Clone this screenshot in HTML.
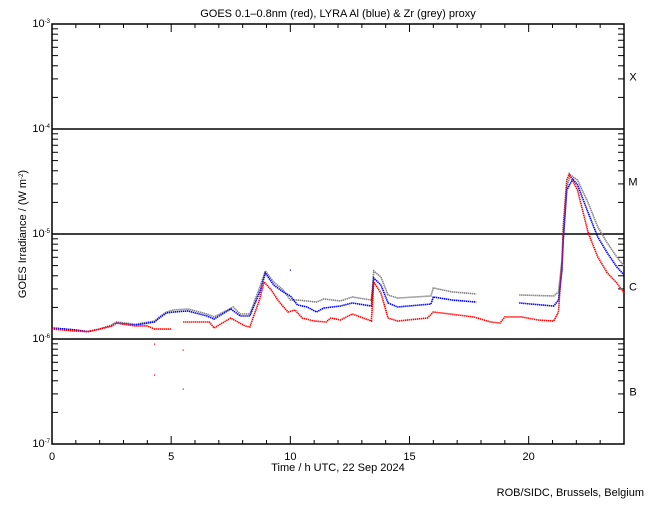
<!DOCTYPE html>
<html><head><meta charset="utf-8"><style>
body{margin:0;background:#fff}
svg text{font-family:"Liberation Sans",sans-serif;font-size:11px;fill:#000}
</style></head><body>
<svg id="chart" width="650" height="500" viewBox="0 0 650 500" xmlns="http://www.w3.org/2000/svg">
<rect width="650" height="500" fill="#fff"/>
<text x="338" y="17" text-anchor="middle" font-size="12">GOES 0.1–0.8nm (red), LYRA Al (blue) &amp; Zr (grey) proxy</text>
<text x="338" y="471" text-anchor="middle">Time / h UTC, 22 Sep 2024</text>
<text transform="translate(26,234) rotate(-90)" text-anchor="middle" font-size="8">GOES Irradiance / (W m<tspan dy="-3" font-size="6">-2</tspan><tspan dy="3">)</tspan></text>
<text x="644" y="496" text-anchor="end">ROB/SIDC, Brussels, Belgium</text>
<g id="axes"></g>
<g id="series"></g>
</svg>
<script>
const xTicks=[0,5,10,15,20];
const yDecades=[-7,-6,-5,-4,-3];
const classLabels=["B","C","M","X"];
const redT=[0,1,1.5,2,2.5,2.7,3,3.5,4,4.3,5];
const redV=[-5.905,-5.924,-5.93,-5.905,-5.876,-5.848,-5.86,-5.876,-5.876,-5.905,-5.905];
const red2T=[5.5,6.6,6.8,7.5,8.1,8.3,8.7,8.9,9.2,9.5,9.9,10.2,10.5,11,11.5,11.7,12.1,12.6,13.4,13.5,13.8,14.1,14.5,15.75,16,16.7,17.7,18.4,18.8,19,19.7,20.4,21.05,21.25,21.4,21.45,21.6,21.7,22.05,22.5,22.9,23.3,23.7,24];
const red2V=[-5.838,-5.838,-5.895,-5.8,-5.876,-5.886,-5.629,-5.457,-5.533,-5.638,-5.743,-5.724,-5.8,-5.829,-5.838,-5.8,-5.819,-5.762,-5.829,-5.457,-5.562,-5.8,-5.829,-5.8,-5.743,-5.762,-5.79,-5.838,-5.848,-5.79,-5.79,-5.819,-5.829,-5.743,-5.248,-4.933,-4.486,-4.429,-4.581,-4.99,-5.219,-5.371,-5.467,-5.562];
const blueT=[0,1,1.5,2,2.5,2.7,3.5,4.3,4.5,4.8,5.1,5.7,6.5,6.8,7.5,7.9,8.3,8.75,8.95,9.3,9.7,10,10.3,10.7,11.1,11.4,12.1,12.6,13.4,13.5,13.8,14.1,14.5,15.9,16,16.8,17.8];
const blueV=[-5.895,-5.914,-5.93,-5.905,-5.876,-5.848,-5.867,-5.838,-5.8,-5.752,-5.743,-5.733,-5.781,-5.81,-5.714,-5.781,-5.781,-5.533,-5.371,-5.486,-5.552,-5.59,-5.676,-5.695,-5.743,-5.705,-5.686,-5.657,-5.686,-5.419,-5.486,-5.657,-5.695,-5.667,-5.6,-5.629,-5.648];
const blue2T=[19.6,21.05,21.25,21.4,21.45,21.6,21.85,22.05,22.5,22.9,23.3,23.7,24];
const blue2V=[-5.657,-5.686,-5.629,-5.343,-5.057,-4.581,-4.476,-4.533,-4.8,-5.029,-5.181,-5.314,-5.39];
const greyT=[0,1,1.5,2,2.5,2.7,3.5,4.3,4.5,4.8,5.1,5.7,6.5,6.8,7.6,7.9,8.3,8.75,8.95,9.3,9.7,10,10.3,10.7,11.1,11.4,12.1,12.6,13.4,13.5,13.8,14.1,14.5,15.9,16,16.8,17.8];
const greyV=[-5.895,-5.914,-5.93,-5.905,-5.867,-5.838,-5.86,-5.829,-5.79,-5.743,-5.724,-5.714,-5.762,-5.79,-5.695,-5.762,-5.762,-5.486,-5.352,-5.457,-5.533,-5.629,-5.629,-5.638,-5.648,-5.619,-5.638,-5.6,-5.629,-5.352,-5.41,-5.581,-5.61,-5.59,-5.514,-5.552,-5.571];
const grey2T=[19.6,21.05,21.25,21.4,21.6,21.75,22.05,22.5,22.9,23.3,23.7,24];
const grey2V=[-5.581,-5.59,-5.552,-5.248,-4.552,-4.438,-4.486,-4.705,-4.933,-5.086,-5.219,-5.305];
const outT=[4.3,4.3,5.5,5.5,10];
const outV=[-6.048,-6.343,-6.105,-6.476,-5.343];
const outC=["#f00","#f00","#f00","#f00","#00f"];

const X0=52,X1=624,Y0=444,Y1=24;
const xs=t=>X0+(X1-X0)*t/24;
const ys=v=>Y0-(Y0-Y1)*(v+7)/4;
const NS="http://www.w3.org/2000/svg";
function mk(tag,attrs,parent){const e=document.createElementNS(NS,tag);for(const k in attrs)e.setAttribute(k,attrs[k]);parent.appendChild(e);return e;}
const ax=document.getElementById('axes');
const frame=mk('rect',{x:X0,y:Y1,width:X1-X0,height:Y0-Y1,fill:'none',stroke:'#000','stroke-width':1.5},ax);


for(let h=0;h<=24;h++){
  const L=h%5===0?8:4;
  mk('line',{x1:xs(h),x2:xs(h),y1:Y0,y2:Y0-L,stroke:'#000'},ax);
  mk('line',{x1:xs(h),x2:xs(h),y1:Y1,y2:Y1+L,stroke:'#000'},ax);
}
xTicks.forEach(t=>{
  const tx=mk('text',{x:xs(t),y:Y0+16,'text-anchor':'middle'},ax);
  tx.textContent=t;
  
  
});
yDecades.forEach((d,i)=>{
  const y=ys(d);
  if(d>-7&&d<-3){
    const gl=mk('line',{x1:X0,x2:X1,y1:y,y2:y,stroke:'#000','stroke-width':1.5},ax);
    
    
  }
  const tl=mk('text',{x:X0-2,y:y+3,'text-anchor':'end','font-size':8},ax);
  tl.innerHTML='10<tspan dy="-4" font-size="6">'+d+'</tspan>';
  
  
  if(d<-3){
    for(let m=2;m<=9;m++){
      const yy=ys(d+Math.log10(m));
      mk('line',{x1:X0,x2:X0+6,y1:yy,y2:yy,stroke:'#000'},ax);
      mk('line',{x1:X1,x2:X1-6,y1:yy,y2:yy,stroke:'#000'},ax);
    }
    const cl=mk('text',{x:X1+9,y:ys(d+0.5)+4,'text-anchor':'middle','font-size':10},ax);
    cl.textContent=classLabels[i];
    
    
  }
});
const sg=document.getElementById('series');
function line(T,V,color,name){
  const p=mk('polyline',{points:T.map((t,i)=>xs(t)+','+ys(V[i])).join(' '),fill:'none',stroke:color,'stroke-width':1.6,'stroke-dasharray':'1.4 0.6'},sg);
  
  
}
line(greyT,greyV,'#808080','zr-proxy-series');
line(grey2T,grey2V,'#808080','zr-proxy-series-2');
line(blueT,blueV,'#0000ff','al-proxy-series');
line(blue2T,blue2V,'#0000ff','al-proxy-series-2');
line(redT,redV,'#ff0000','goes-series');
line(red2T,red2V,'#ff0000','goes-series-2');
outT.forEach((t,i)=>{
  const r=mk('rect',{x:xs(t)-0.5,y:ys(outV[i])-0.5,width:1.2,height:1.2,fill:outC[i]},sg);
  
  
});
</script>
</body></html>
